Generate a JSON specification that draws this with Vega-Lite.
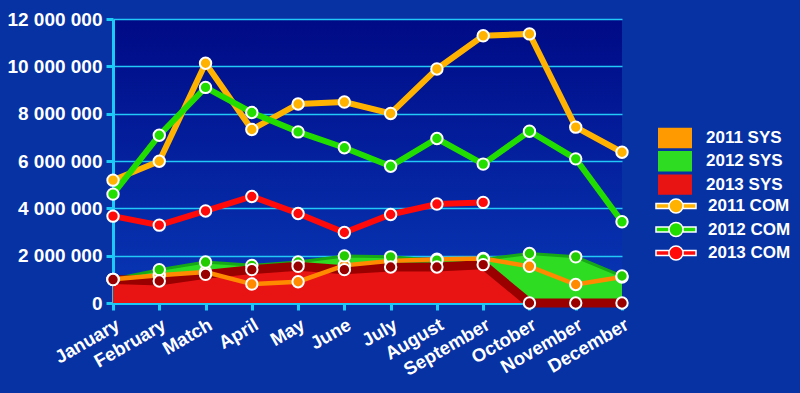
{
  "$schema": "https://vega.github.io/schema/vega-lite/v6.json",
  "width": 509,
  "height": 284,
  "autosize": "none",
  "padding": {"left": 113, "top": 19, "right": 178, "bottom": 90},
  "background": "#0632a4",
  "config": {
    "view": {"stroke": null, "fill": {"gradient": "linear", "x1": 0, "y1": 0, "x2": 0, "y2": 1, "stops": [{"offset": 0, "color": "#000a86"}, {"offset": 1, "color": "#0838b6"}]}},
    "axis": {"domainColor": "#1ccbf5", "domainWidth": 3, "tickColor": "#1ccbf5", "tickWidth": 3, "tickSize": 7, "labelColor": "white", "labelFont": "Liberation Sans", "labelFontWeight": "bold", "gridColor": "#22c8f8", "gridWidth": 1.5, "title": null},
    "axisX": {"labelFontSize": 18.5, "labelAngle": -30, "grid": false, "labelPadding": 5},
    "axisY": {"labelFontSize": 19, "labelPadding": 4},
    "legend": {"labelColor": "white", "labelFont": "Liberation Sans", "labelFontWeight": "bold", "labelFontSize": 17}
  },
  "data": {
    "values": [
      {"month": "January", "2011 COM": 5190000, "2012 COM": 4600000, "2013 COM": 3670000, "2011 SYS": 1000000, "2012 SYS": 1000000, "2013 SYS": 990000},
      {"month": "February", "2011 COM": 5990000, "2012 COM": 7090000, "2013 COM": 3290000, "2011 SYS": 1170000, "2012 SYS": 1410000, "2013 SYS": 930000},
      {"month": "Match", "2011 COM": 10130000, "2012 COM": 9110000, "2013 COM": 3890000, "2011 SYS": 1310000, "2012 SYS": 1730000, "2013 SYS": 1210000},
      {"month": "April", "2011 COM": 7330000, "2012 COM": 8050000, "2013 COM": 4500000, "2011 SYS": 800000, "2012 SYS": 1590000, "2013 SYS": 1410000},
      {"month": "May", "2011 COM": 8410000, "2012 COM": 7230000, "2013 COM": 3780000, "2011 SYS": 900000, "2012 SYS": 1730000, "2013 SYS": 1550000},
      {"month": "June", "2011 COM": 8490000, "2012 COM": 6560000, "2013 COM": 2980000, "2011 SYS": 1590000, "2012 SYS": 1990000, "2013 SYS": 1410000},
      {"month": "July", "2011 COM": 8010000, "2012 COM": 5780000, "2013 COM": 3740000, "2011 SYS": 1780000, "2012 SYS": 1950000, "2013 SYS": 1520000},
      {"month": "August", "2011 COM": 9890000, "2012 COM": 6950000, "2013 COM": 4180000, "2011 SYS": 1850000, "2012 SYS": 1810000, "2013 SYS": 1520000},
      {"month": "September", "2011 COM": 11290000, "2012 COM": 5870000, "2013 COM": 4250000, "2011 SYS": 1880000, "2012 SYS": 1850000, "2013 SYS": 1620000},
      {"month": "October", "2011 COM": 11370000, "2012 COM": 7260000, "2013 COM": null, "2011 SYS": 1550000, "2012 SYS": 2090000, "2013 SYS": 0},
      {"month": "November", "2011 COM": 7430000, "2012 COM": 6090000, "2013 COM": null, "2011 SYS": 780000, "2012 SYS": 1950000, "2013 SYS": 0},
      {"month": "December", "2011 COM": 6370000, "2012 COM": 3430000, "2013 COM": null, "2011 SYS": 1100000, "2012 SYS": 1140000, "2013 SYS": 0}
    ]
  },
  "encoding": {
    "x": {"field": "month", "type": "nominal", "sort": null, "scale": {"type": "point", "padding": 0}, "axis": {"title": null}}
  },
  "layer": [
    {
      "mark": {"type": "area", "opacity": 1},
      "encoding": {
        "y": {"field": "2012 SYS", "type": "quantitative", "scale": {"domain": [0, 12000000], "nice": false}, "axis": {"orient": "left", "values": [0, 500000, 1000000, 1500000, 2000000, 2500000, 3000000, 3500000, 4000000, 4500000, 5000000, 5500000, 6000000, 6500000, 7000000, 7500000, 8000000, 8500000, 9000000, 9500000, 10000000, 10500000, 11000000, 11500000, 12000000], "labelExpr": "datum.value % 2000000 === 0 ? replace(format(datum.value, ','), regexp(',', 'g'), ' ') : ''", "grid": true, "labelOverlap": false, "title": null,
          "tickOpacity": {"expr": "datum.value % 2000000 === 0 ? 1 : 0"},
          "gridColor": {"expr": "datum.value % 1000000 === 0 ? '#22c8f8' : '#3c7cff'"},
          "gridWidth": {"expr": "datum.value % 1000000 === 0 ? 1.5 : 22"},
          "gridOpacity": {"expr": "datum.value % 1000000 === 0 ? 1 : ((datum.value / 500000) % 4 === 1 ? 0.28 : 0)"}
        }},
        "fill": {"datum": "2012 SYS", "type": "nominal", "scale": {"domain": ["2011 SYS", "2012 SYS", "2013 SYS"], "range": ["#ff9a00", "#2edc22", "#e81414"]}, "legend": {"title": null, "orient": "none", "legendX": 552, "legendY": 109, "symbolType": "M-1.7,-1.02H1.7V1.02H-1.7Z", "symbolSize": 400, "labelOffset": 21, "rowPadding": 1.3, "symbolStrokeWidth": 0, "symbolOpacity": 1}}
      }
    },
    {
      "mark": {"type": "line", "color": "#17a817", "strokeWidth": 3},
      "encoding": {"y": {"field": "2012 SYS", "type": "quantitative"}}
    },
    {
      "mark": {"type": "area", "opacity": 1},
      "encoding": {
        "y": {"field": "2013 SYS", "type": "quantitative"},
        "fill": {"datum": "2013 SYS", "type": "nominal"}
      }
    },
    {
      "mark": {"type": "line", "color": "#9a0000", "strokeWidth": 9},
      "encoding": {"y": {"field": "2013 SYS", "type": "quantitative"}}
    },
    {
      "mark": {"type": "line", "color": "#ff8a00", "strokeWidth": 4.5},
      "encoding": {"y": {"field": "2011 SYS", "type": "quantitative"}}
    },
    {
      "mark": {"type": "point", "filled": true, "fill": "#ff8a00", "stroke": "white", "strokeWidth": 2, "size": 130, "opacity": 1},
      "encoding": {"y": {"field": "2011 SYS", "type": "quantitative"}}
    },
    {
      "mark": {"type": "point", "filled": true, "fill": "#22cc00", "stroke": "white", "strokeWidth": 2, "size": 130, "opacity": 1},
      "encoding": {"y": {"field": "2012 SYS", "type": "quantitative"}}
    },
    {
      "mark": {"type": "point", "filled": true, "fill": "#990000", "stroke": "white", "strokeWidth": 2, "size": 130, "opacity": 1},
      "encoding": {"y": {"field": "2013 SYS", "type": "quantitative"}}
    },
    {
      "mark": {"type": "line", "strokeWidth": 6, "color": "#ffb300"},
      "encoding": {"y": {"field": "2011 COM", "type": "quantitative"}}
    },
    {
      "mark": {"type": "line", "strokeWidth": 6, "color": "#22dd00"},
      "encoding": {"y": {"field": "2012 COM", "type": "quantitative"}}
    },
    {
      "mark": {"type": "line", "strokeWidth": 6, "color": "#ff0a0a"},
      "encoding": {"y": {"field": "2013 COM", "type": "quantitative"}}
    },
    {
      "mark": {"type": "point", "filled": true, "stroke": "white", "strokeWidth": 2, "size": 130, "opacity": 1},
      "encoding": {
        "y": {"field": "2011 COM", "type": "quantitative"},
        "color": {"datum": "2011 COM", "type": "nominal", "scale": {"domain": ["2011 COM", "2012 COM", "2013 COM"], "range": ["#ffb300", "#22dd00", "#ff0a0a"]}, "legend": {"title": null, "orient": "none", "legendX": 552, "legendY": 176, "symbolType": "M-2,-0.26H-0.7V0.26H-2Z M0.7,-0.26H2V0.26H0.7Z M0.7,0A0.7,0.7 0 1,1 -0.7,0A0.7,0.7 0 1,1 0.7,0Z", "symbolSize": 400, "labelOffset": 21, "rowPadding": 2.5, "symbolStrokeWidth": 1.5, "symbolStrokeColor": "white", "symbolOpacity": 1}}
      }
    },
    {
      "mark": {"type": "point", "filled": true, "stroke": "white", "strokeWidth": 2, "size": 130, "opacity": 1},
      "encoding": {"y": {"field": "2012 COM", "type": "quantitative"}, "color": {"datum": "2012 COM", "type": "nominal"}}
    },
    {
      "mark": {"type": "point", "filled": true, "stroke": "white", "strokeWidth": 2, "size": 130, "opacity": 1},
      "encoding": {"y": {"field": "2013 COM", "type": "quantitative"}, "color": {"datum": "2013 COM", "type": "nominal"}}
    }
  ]
}
